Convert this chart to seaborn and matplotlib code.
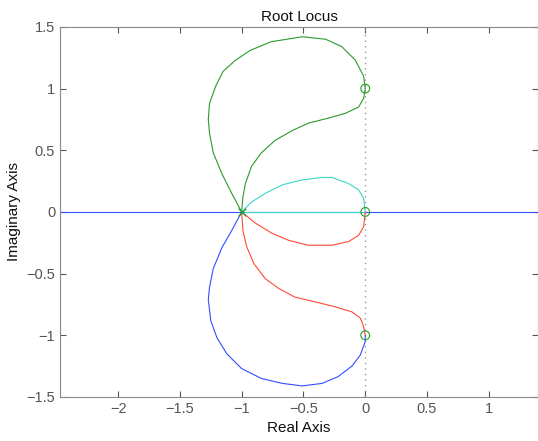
import numpy as np
import pandas as pd
import matplotlib
matplotlib.use("Agg")
import matplotlib.pyplot as plt
import seaborn as sns

# branches of the root locus (real, imag)
green_outer_re = [-1.0, -1.08, -1.16, -1.23, -1.26, -1.27, -1.26, -1.21, -1.15, -1.05, -0.93, -0.76,
                  -0.51, -0.32, -0.19, -0.08, -0.013, 0.0]
green_outer_im = [0.0, 0.15, 0.31, 0.48, 0.64, 0.75, 0.88, 1.02, 1.14, 1.23, 1.31, 1.38,
                  1.42, 1.40, 1.34, 1.23, 1.10, 1.0]

green_inner_re = [-1.0, -0.99, -0.97, -0.92, -0.84, -0.73, -0.59, -0.46, -0.30, -0.16, -0.054, -0.013, 0.0]
green_inner_im = [0.0, 0.12, 0.23, 0.37, 0.48, 0.58, 0.66, 0.72, 0.76, 0.80, 0.85, 0.92, 1.0]

cyan_re = [-1.0, -0.92, -0.81, -0.67, -0.51, -0.35, -0.27, -0.135, -0.054, -0.013, 0.0]
cyan_im = [0.0, 0.08, 0.15, 0.22, 0.26, 0.28, 0.28, 0.23, 0.18, 0.11, 0.0]

red_upper_re = [-1.0, -0.89, -0.76, -0.62, -0.46, -0.27, -0.135, -0.054, -0.013, 0.0]
red_upper_im = [0.0, -0.09, -0.17, -0.23, -0.27, -0.27, -0.24, -0.19, -0.12, 0.0]

red_lower_re = [-1.0, -0.99, -0.96, -0.90, -0.81, -0.70, -0.57, -0.40, -0.24, -0.108, -0.04, -0.013, 0.0]
red_lower_im = [0.0, -0.15, -0.28, -0.42, -0.54, -0.62, -0.69, -0.73, -0.77, -0.81, -0.86, -0.93, -1.0]

blue_re = [-1.0, -1.08, -1.16, -1.23, -1.26, -1.27, -1.25, -1.20, -1.12, -1.00, -0.84, -0.67,
           -0.51, -0.35, -0.22, -0.108, -0.04, 0.0, 0.0]
blue_im = [0.0, -0.15, -0.29, -0.46, -0.61, -0.71, -0.88, -1.02, -1.15, -1.27, -1.35, -1.39,
           -1.41, -1.39, -1.335, -1.25, -1.16, -1.05, -1.0]

real_axis_re = [-2.6, 1.6]
real_axis_im = [0.0, 0.0]
cyan_axis_re = [-1.0, 0.0]
cyan_axis_im = [0.0, 0.0]

pole_re = [-1.0]
pole_im = [0.0]
zero_re = [0.0, 0.0, 0.0]
zero_im = [1.0, 0.0, -1.0]

sns.set_style("ticks")
plt.rcParams['font.family'] = ['Liberation Sans', 'DejaVu Sans']

fig = plt.figure(figsize=(5.38, 4.41), dpi=100)
ax = fig.add_axes([0.1115, 0.0998, 0.889, 0.8392])

blue = "#3050ff"
green = "#2a9a2a"
red = "#ff4a33"
cyan = "#3cd6c8"

ax.axvline(0, color="#999999", linestyle=(0, (1, 3)), linewidth=1.0, zorder=1)

line_kw = dict(linewidth=0.8, sort=False, estimator=None, ax=ax)
sns.lineplot(x=real_axis_re, y=real_axis_im, color=blue, **line_kw)
sns.lineplot(x=cyan_axis_re, y=cyan_axis_im, color=cyan, **line_kw)
sns.lineplot(x=blue_re, y=blue_im, color=blue, **line_kw)
sns.lineplot(x=green_outer_re, y=green_outer_im, color=green, **line_kw)
sns.lineplot(x=green_inner_re, y=green_inner_im, color=green, **line_kw)
sns.lineplot(x=cyan_re, y=cyan_im, color=cyan, **line_kw)
sns.lineplot(x=red_upper_re, y=red_upper_im, color=red, **line_kw)
sns.lineplot(x=red_lower_re, y=red_lower_im, color=red, **line_kw)

ax.scatter(zero_re, zero_im, s=40, facecolors="none", edgecolors=green, linewidths=0.8, zorder=5)
ax.scatter(pole_re, pole_im, s=30, marker="x", color=green, linewidths=1.0, zorder=5)

ax.set_xlim(-2.47, 1.4)
ax.set_ylim(-1.5, 1.5)
ax.set_xticks([-2, -1.5, -1, -0.5, 0, 0.5, 1])
ax.set_xticklabels(["\u22122", "\u22121.5", "\u22121", "\u22120.5", "0", "0.5", "1"])
ax.set_yticks([-1.5, -1, -0.5, 0, 0.5, 1, 1.5])
ax.set_yticklabels(["\u22121.5", "\u22121", "\u22120.5", "0", "0.5", "1", "1.5"])

ax.tick_params(direction="in", top=True, right=True, length=4, width=0.8,
               color="#555555", labelcolor="#555555", labelsize=10.5)
for side in ["left", "bottom", "top", "right"]:
    ax.spines[side].set_color("#888888")
    ax.spines[side].set_linewidth(0.8)

ax.set_title("Root Locus", fontsize=11, color="#111111", pad=4)
ax.set_xlabel("Real Axis", fontsize=11, color="#111111")
ax.set_ylabel("Imaginary Axis", fontsize=11, color="#111111")

fig.savefig("out.png", dpi=100)
